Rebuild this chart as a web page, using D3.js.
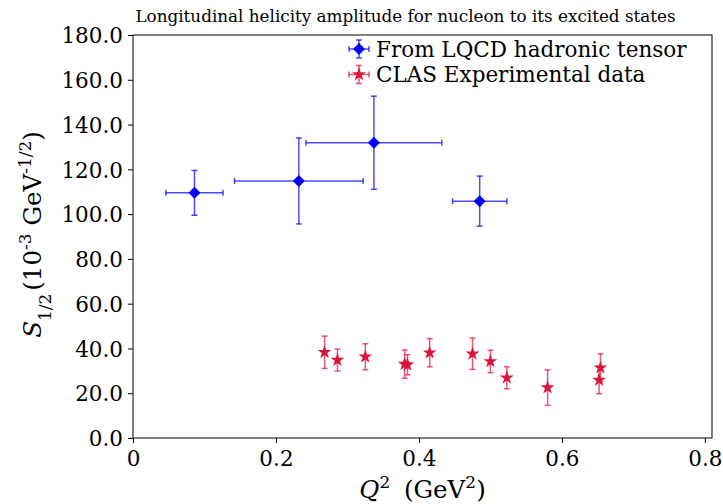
<!DOCTYPE html>
<html lang="en">
<head>
<meta charset="UTF-8">
<script src="https://d3js.org/d3.v7.min.js"></script>
<style>
  body { margin: 0; background: #fff; }
  svg { font-family: "DejaVu Serif", serif; }
</style>
</head>
<body>
<script>
// LQCD hadronic tensor points (Q^2, S1/2 and their errors)
const lqcdQ2 = [0.086, 0.232, 0.337, 0.485];
const lqcdS = [109.5, 114.8, 131.9, 105.8];
const lqcdQ2Err = [0.040, 0.090, 0.095, 0.038];
const lqcdSErr = [10.0, 19.2, 20.8, 11.2];

// CLAS experimental data
const clasQ2 = [0.268, 0.286, 0.325, 0.380, 0.384, 0.415, 0.475, 0.500, 0.523, 0.580, 0.654, 0.652];
const clasS = [38.3, 34.8, 36.3, 33.0, 32.7, 38.1, 37.6, 34.2, 26.9, 22.5, 31.4, 25.9];
const clasSErr = [7.2, 4.9, 5.8, 6.3, 4.5, 6.3, 7.0, 5.0, 4.9, 7.9, 6.2, 6.1];

const xTicks = [0, 0.2, 0.4, 0.6, 0.8];
const yTicks = [0, 20, 40, 60, 80, 100, 120, 140, 160, 180];

const W = 723, H = 504;
const m = {left: 133, right: 11, top: 35, bottom: 66};

const svg = d3.select("body").append("svg")
  .attr("width", W).attr("height", H);

const x = d3.scaleLinear().domain([0, 0.81]).range([m.left, W - m.right]);
const y = d3.scaleLinear().domain([0, 180]).range([H - m.bottom, m.top]);

// title
svg.append("text")
  .attr("x", (m.left + W - m.right) / 2 - 17).attr("y", 22)
  .attr("text-anchor", "middle")
  .style("font-size", "16.8px")
  .text("Longitudinal helicity amplitude for nucleon to its excited states");

// axes
const xAxis = svg.append("g")
  .attr("transform", `translate(0,${H - m.bottom})`)
  .call(d3.axisBottom(x).tickValues(xTicks).tickSize(5).tickPadding(5)
    .tickFormat(d => d === 0 ? "0" : d3.format(".1f")(d)));
const yAxis = svg.append("g")
  .attr("transform", `translate(${m.left},0)`)
  .call(d3.axisLeft(y).tickValues(yTicks).tickSize(5).tickPadding(5)
    .tickFormat(d3.format(".1f")));
[xAxis, yAxis].forEach(a => {
  a.select(".domain").remove();
  a.selectAll("text").style("font-size", "21.5px").attr("font-family", "DejaVu Serif").attr("fill", "#000");
  a.selectAll("line").attr("stroke", "#000").attr("stroke-width", 1);
});
xAxis.selectAll("text").attr("dy", "0.85em");
yAxis.selectAll("text").attr("dy", "0.36em");

// frame
svg.append("rect")
  .attr("x", m.left).attr("y", m.top)
  .attr("width", W - m.left - m.right).attr("height", H - m.top - m.bottom)
  .attr("fill", "none").attr("stroke", "#000").attr("stroke-width", 1);

// axis labels
const xl = svg.append("text")
  .attr("x", (m.left + W - m.right) / 2).attr("y", 498)
  .attr("text-anchor", "middle").style("font-size", "24.5px");
xl.append("tspan").attr("font-style", "italic").text("Q");
xl.append("tspan").attr("baseline-shift", "super").style("font-size", "17px").text("2");
xl.append("tspan").attr("dx", 6).text(" (GeV");
xl.append("tspan").attr("baseline-shift", "super").style("font-size", "17px").text("2");
xl.append("tspan").text(")");

const yl = svg.append("text")
  .attr("transform", `translate(41,${(m.top + H - m.bottom) / 2 - 2}) rotate(-90)`)
  .attr("text-anchor", "middle").style("font-size", "24.5px");
yl.append("tspan").attr("font-style", "italic").text("S");
yl.append("tspan").attr("baseline-shift", "sub").style("font-size", "17px").text("1/2");
yl.append("tspan").attr("dx", 3).text("(10");
yl.append("tspan").attr("baseline-shift", "super").style("font-size", "17px").text("-3");
yl.append("tspan").text(" GeV");
yl.append("tspan").attr("baseline-shift", "super").style("font-size", "17px").text("-1/2");
yl.append("tspan").text(")");

const cap = 3;

// LQCD error bars + diamonds
const blue = "#0000ff";
const lq = lqcdQ2.map((q, i) => ({q, s: lqcdS[i], qe: lqcdQ2Err[i], se: lqcdSErr[i]}));
const gB = svg.append("g").attr("stroke", blue).attr("stroke-opacity", 0.7).attr("stroke-width", 1.5);
lq.forEach(d => {
  const cx = x(d.q), cy = y(d.s);
  const x0 = x(d.q - d.qe), x1 = x(d.q + d.qe), y0 = y(d.s - d.se), y1 = y(d.s + d.se);
  gB.append("line").attr("x1", x0).attr("x2", x1).attr("y1", cy).attr("y2", cy);
  gB.append("line").attr("x1", cx).attr("x2", cx).attr("y1", y0).attr("y2", y1);
  [x0, x1].forEach(v => gB.append("line").attr("x1", v).attr("x2", v).attr("y1", cy - cap).attr("y2", cy + cap));
  [y0, y1].forEach(v => gB.append("line").attr("x1", cx - cap).attr("x2", cx + cap).attr("y1", v).attr("y2", v));
});
svg.append("g").selectAll("path").data(lq).join("path")
  .attr("d", "M0,-6L6,0L0,6L-6,0Z")
  .attr("transform", d => `translate(${x(d.q)},${y(d.s)})`)
  .attr("fill", blue);

// CLAS error bars + stars
const red = "#dc143c";
const cl = clasQ2.map((q, i) => ({q, s: clasS[i], se: clasSErr[i]}));
const gR = svg.append("g").attr("stroke", red).attr("stroke-opacity", 0.7).attr("stroke-width", 1.5);
cl.forEach(d => {
  const cx = x(d.q), y0 = y(d.s - d.se), y1 = y(d.s + d.se);
  gR.append("line").attr("x1", cx).attr("x2", cx).attr("y1", y0).attr("y2", y1);
  [y0, y1].forEach(v => gR.append("line").attr("x1", cx - cap).attr("x2", cx + cap).attr("y1", v).attr("y2", v));
});
const star = d3.symbol().type(d3.symbolStar).size(60);
svg.append("g").selectAll("path").data(cl).join("path")
  .attr("d", star)
  .attr("transform", d => `translate(${x(d.q)},${y(d.s)})`)
  .attr("fill", red);

// legend
const legItems = [
  {label: "From LQCD hadronic tensor", color: blue, sym: "diamond"},
  {label: "CLAS Experimental data", color: red, sym: "star"}
];
const leg = svg.append("g").attr("transform", "translate(359,49)");
legItems.forEach((it, i) => {
  const g = leg.append("g").attr("transform", `translate(0,${i * 25.5})`);
  const gl = g.append("g").attr("stroke", it.color).attr("stroke-opacity", 0.7).attr("stroke-width", 1.5);
  gl.append("line").attr("x1", -10).attr("x2", 10).attr("y1", 0).attr("y2", 0);
  gl.append("line").attr("x1", 0).attr("x2", 0).attr("y1", -9).attr("y2", 9);
  [-10, 10].forEach(v => gl.append("line").attr("x1", v).attr("x2", v).attr("y1", -cap).attr("y2", cap));
  [-9, 9].forEach(v => gl.append("line").attr("x1", -cap).attr("x2", cap).attr("y1", v).attr("y2", v));
  g.append("path")
    .attr("d", it.sym === "diamond" ? "M0,-6L6,0L0,6L-6,0Z" : star())
    .attr("fill", it.color);
  g.append("text").attr("x", 17).attr("y", 0).attr("dy", "0.35em")
    .style("font-size", "21.5px").text(it.label);
});
</script>
</body>
</html>
